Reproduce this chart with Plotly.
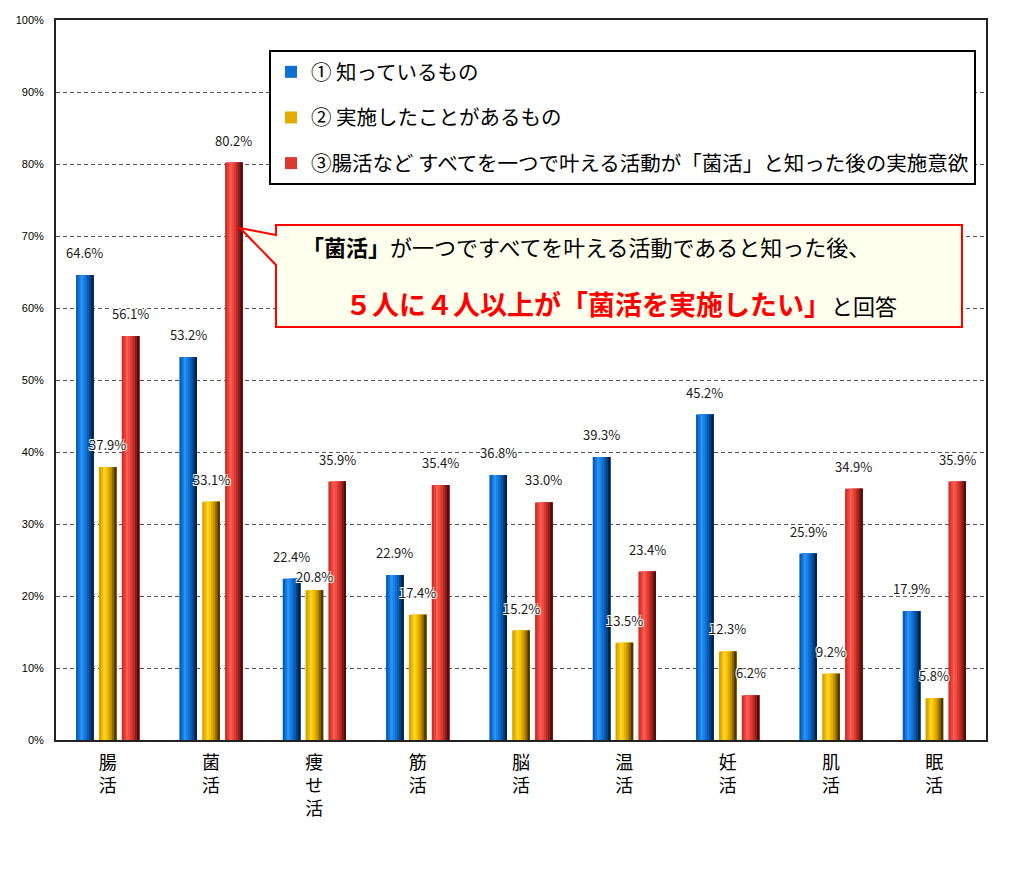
import plotly.graph_objects as go

# ---------------- data ----------------
categories = ["腸活", "菌活", "痩せ活", "筋活", "脳活", "温活", "妊活", "肌活", "眠活"]
known_values = [64.6, 53.2, 22.4, 22.9, 36.8, 39.3, 45.2, 25.9, 17.9]
tried_values = [37.9, 33.1, 20.8, 17.4, 15.2, 13.5, 12.3, 9.2, 5.8]
intent_values = [56.1, 80.2, 35.9, 35.4, 33.0, 23.4, 6.2, 34.9, 35.9]
series_names = [
    "① 知っているもの",
    "② 実施したことがあるもの",
    "③腸活など すべてを一つで叶える活動が「菌活」と知った後の実施意欲",
]
y_tick_values = [0, 10, 20, 30, 40, 50, 60, 70, 80, 90, 100]
y_tick_labels = ["0%", "10%", "20%", "30%", "40%", "50%", "60%", "70%", "80%", "90%", "100%"]

# ---------------- styles ----------------
FONT = "Noto Sans CJK JP"
W, H = 1035, 872
ML, MR, MT, MB = 56, 49, 20, 132
PW, PH = W - ML - MR, H - MT - MB

series_values = [known_values, tried_values, intent_values]
series_offsets = [-0.221, 0.0, 0.221]
bar_width = 0.17
shades = [
    ["#0b5cb4", "#1479dd", "#2a94f7", "#1a82ea", "#0f6fd2", "#0a5bb0", "#064184", "#022244"],
    ["#d9a200", "#efbb00", "#ffd636", "#f7c600", "#e2ab00", "#c28f00", "#8c6600", "#4a3500"],
    ["#cf3129", "#e6433a", "#ff5d52", "#f24a41", "#da3a32", "#b92b25", "#8b1c18", "#4b0e0c"],
]
legend_color_index = 4
label_nudge = {(2, 1): -9}  # (category index, series index): pixel shift


def px_to_paper(px, py):
    return (px - ML) / PW, (H - MB - py) / PH


fig = go.Figure()
x_pos = list(range(len(categories)))
n_strips = len(shades[0])
for s, (vals, off, cols) in enumerate(zip(series_values, series_offsets, shades)):
    for j, col in enumerate(cols):
        start = off - bar_width / 2 + j * bar_width / n_strips
        fig.add_trace(go.Bar(
            x=x_pos, y=vals,
            offset=start, width=bar_width - j * bar_width / n_strips,
            marker=dict(color=col, line=dict(width=0)),
            name=series_names[s],
            legendgroup=f"s{s}",
            showlegend=(j == legend_color_index),
            hoverinfo="skip" if j else "y",
        ))

# data labels
annotations = []
for s, (vals, off) in enumerate(zip(series_values, series_offsets)):
    for i, v in enumerate(vals):
        annotations.append(dict(
            x=i + off, y=v, xref="x", yref="y",
            text=f"{v:.1f}%", showarrow=False,
            yanchor="bottom", yshift=11 + label_nudge.get((i, s), 0),
            font=dict(family=FONT, size=13, color="#1a1a1a",
                      shadow="1px 1px 0 #fff, -1px -1px 0 #fff, 1px -1px 0 #fff, -1px 1px 0 #fff"),
        ))

# callout
pts = [(276, 225), (962, 225), (962, 327), (276, 327), (276, 265), (240, 228), (276, 235)]
path = "M " + " L ".join(f"{px_to_paper(a, b)[0]:.5f},{px_to_paper(a, b)[1]:.5f}" for a, b in pts) + " Z"
shapes = [dict(type="path", path=path, xref="paper", yref="paper",
               fillcolor="#FFFFEE", line=dict(color="#FF0000", width=2), layer="above")]

x1, y1 = px_to_paper(300, 246)
annotations.append(dict(
    x=x1, y=y1, xref="paper", yref="paper", xanchor="left", yanchor="middle",
    showarrow=False,
    text="<b>「菌活」</b>が一つですべてを叶える活動であると知った後、",
    font=dict(family=FONT, size=22, color="#000000"),
))
x2, y2 = px_to_paper(621, 303)
annotations.append(dict(
    x=x2, y=y2, xref="paper", yref="paper", xanchor="center", yanchor="middle",
    showarrow=False,
    text="<b>５人に４人以上が「菌活を実施したい」</b>"
         "<span style='color:#000000;font-size:22px'>と回答</span>",
    font=dict(family=FONT, size=27, color="#FF0000"),
))

lx, ly = px_to_paper(269, 50)
fig.update_layout(
    width=W, height=H,
    margin=dict(l=ML, r=MR, t=MT, b=MB, pad=0),
    paper_bgcolor="white", plot_bgcolor="white",
    barmode="overlay",
    font=dict(family=FONT, color="#000000"),
    showlegend=True,
    legend=dict(
        x=lx, y=ly, xanchor="left", yanchor="top",
        bgcolor="white", bordercolor="#000000", borderwidth=2,
        font=dict(family=FONT, size=20.5, color="#000000"),
        traceorder="grouped", tracegroupgap=16,
    ),
    annotations=annotations,
    shapes=shapes,
    xaxis=dict(
        range=[-0.5, len(categories) - 0.5],
        tickmode="array", tickvals=x_pos,
        ticktext=["<br>".join(list(c)) for c in categories],
        tickfont=dict(family=FONT, size=18, color="#000000"),
        showline=True, linecolor="#222222", linewidth=2, mirror=True,
        showgrid=False, ticks="", zeroline=False,
        ticklabelstandoff=5,
    ),
    yaxis=dict(
        range=[0, 100],
        tickmode="array", tickvals=y_tick_values, ticktext=y_tick_labels,
        tickfont=dict(family="Liberation Sans", size=11, color="#000000"),
        showline=True, linecolor="#222222", linewidth=2, mirror=True,
        showgrid=True, gridcolor="#555555", gridwidth=1, griddash="4px,3px",
        ticks="", zeroline=False, ticklabelstandoff=8,
    ),
)

fig.write_html("out.html")
